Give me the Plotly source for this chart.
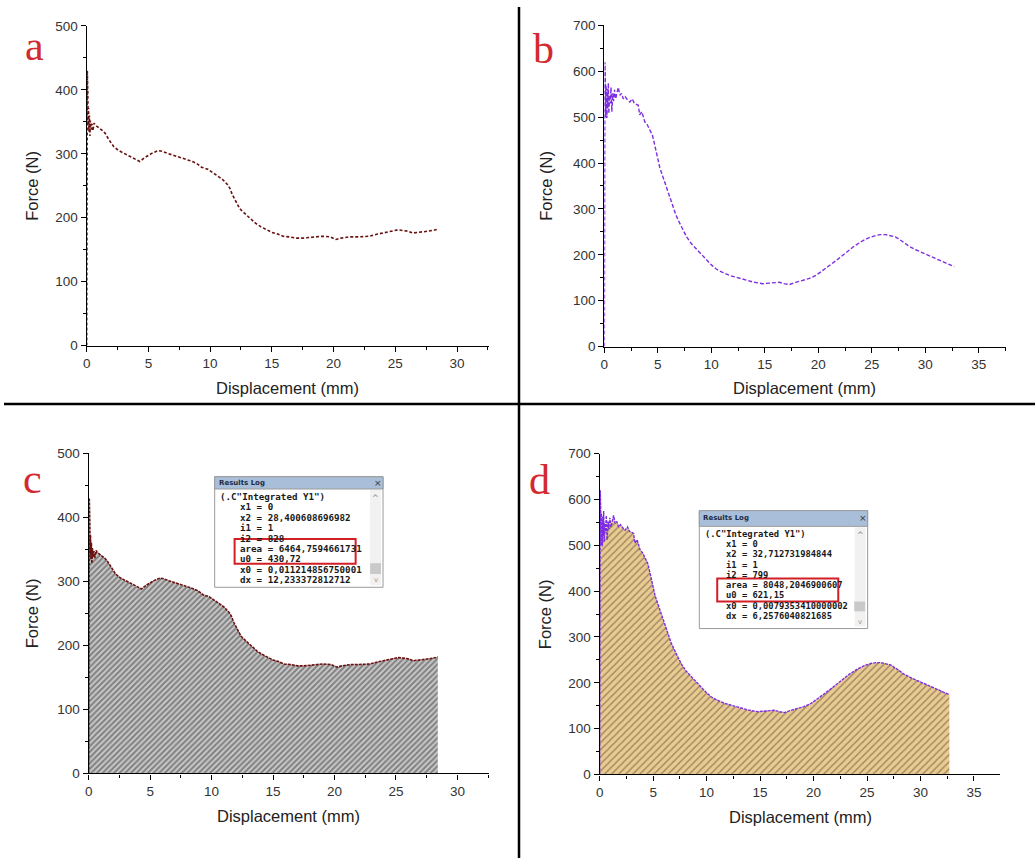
import plotly.graph_objects as go

W, H = 1035, 866

# ---- Specimen 1 (panels a, c): force vs displacement ----
disp_1 = [0.0, 0.01, 0.02, 0.03, 0.04, 0.05, 0.07, 0.09, 0.12, 0.15, 0.18, 0.22, 0.26, 0.3,
          0.35, 0.43, 0.5, 0.6, 0.7, 0.85, 1.1, 1.3, 1.5, 1.8, 2.2, 2.6, 3.0, 3.4, 3.8, 4.3,
          4.7, 5.0, 5.3, 5.8, 6.1, 6.5, 7.0, 7.5, 8.0, 8.4, 8.9, 9.3, 9.8, 10.2, 10.6, 11.0,
          11.4, 11.6, 11.8, 12.1, 12.4, 12.9, 13.3, 13.7, 14.1, 14.5, 15.0, 15.4, 15.9, 16.4,
          17.0, 17.5, 18.0, 18.6, 19.1, 19.7, 20.2, 20.6, 21.3, 22.0, 22.9, 23.5, 24.0, 24.4,
          24.8, 25.2, 25.6, 26.0, 26.4, 26.8, 27.2, 27.7, 28.25, 28.4]
force_1 = [0, 90, 200, 310, 400, 430, 365, 395, 345, 372, 335, 360, 328, 352,
           338, 347, 336, 348, 345, 343, 340, 336, 332, 322, 311, 305, 301, 297, 292, 288,
           294, 298, 301, 305, 304, 301, 298, 294, 291, 289, 285, 279, 276, 271, 266, 260,
           252, 246, 236, 225, 214, 205, 198, 191, 186, 182, 177, 175, 171, 170,
           168, 168, 169, 170, 171, 170, 166, 168, 170, 170, 171, 174, 176, 178,
           180, 181, 180, 179, 176, 177, 177, 179, 181, 182]

# ---- Specimen 2 (panels b, d) ----
disp_2 = [0.0, 0.01, 0.02, 0.03, 0.04, 0.05, 0.07, 0.09, 0.11, 0.14, 0.17, 0.2, 0.24, 0.28,
          0.32, 0.37, 0.42, 0.48, 0.55, 0.62, 0.7, 0.78, 0.86, 0.95, 1.05, 1.15, 1.3, 1.45,
          1.6, 1.77, 1.95, 2.15, 2.38, 2.6, 2.8, 3.0, 3.17, 3.3, 3.5, 3.78, 4.0, 4.25, 4.5,
          4.7, 4.95, 5.18, 5.5, 5.8, 6.1, 6.42, 6.7, 7.04, 7.35, 7.66, 8.1, 8.6, 9.0, 9.52,
          10.0, 10.46, 11.0, 11.7, 12.4, 13.25, 14.0, 14.8, 15.5, 16.35, 16.8, 17.28, 17.9,
          18.5, 19.1, 19.77, 20.4, 21.0, 21.8, 22.56, 23.3, 24.1, 24.7, 25.35, 25.8, 26.3,
          26.8, 27.2, 27.8, 28.45, 29.1, 29.7, 30.5, 31.25, 32.0, 32.7]
force_2 = [0, 150, 300, 440, 560, 620, 510, 585, 500, 570, 515, 555, 498, 562,
           520, 575, 508, 548, 530, 565, 512, 552, 535, 560, 540, 550, 565, 548,
           552, 540, 545, 538, 533, 540, 530, 528, 526, 505, 512, 490, 484, 472, 460,
           440, 415, 390, 368, 347, 326, 305, 286, 269, 254, 240, 225, 212, 202, 190,
           178, 169, 162, 155, 150, 144, 140, 137, 139, 140, 137, 135, 140,
           144, 148, 155, 165, 176, 190, 205, 218, 230, 237, 242, 244, 244,
           242, 239, 230, 219, 211, 205, 197, 190, 182, 174]

log_c = ['(.C"Integrated Y1")', 'x1 = 0', 'x2 = 28,400608696982', 'i1 = 1', 'i2 = 828',
         'area = 6464,7594661731', 'u0 = 430,72', 'x0 = 0,011214856750001',
         'dx = 12,233372812712']
log_d = ['(.C"Integrated Y1")', 'x1 = 0', 'x2 = 32,712731984844', 'i1 = 1', 'i2 = 799',
         'area = 8048,2046900607', 'u0 = 621,15', 'x0 = 0,0079353410000002',
         'dx = 6,2576040821685']

RED_DARK = "#6a1010"
PURPLE = "#7d2ee0"


def fx(x):
    return x / W


def fy(y):
    return 1 - y / H


fig = go.Figure()

# panel a
fig.add_trace(go.Scatter(x=disp_1, y=force_1, mode="lines", xaxis="x", yaxis="y",
                         line=dict(color=RED_DARK, width=1.6, dash="3px,2px")))
# panel b
fig.add_trace(go.Scatter(x=disp_2, y=force_2, mode="lines", xaxis="x2", yaxis="y2",
                         line=dict(color=PURPLE, width=1.4, dash="4px,2px")))
# panel c: hatched integral area + curve
fig.add_trace(go.Scatter(x=disp_1, y=force_1, mode="none", xaxis="x3", yaxis="y3",
                         fill="tozeroy",
                         fillpattern=dict(shape="/", bgcolor="#c8c8c8", fgcolor="#363636",
                                          size=4, solidity=0.48)))
fig.add_trace(go.Scatter(x=disp_1, y=force_1, mode="lines", xaxis="x3", yaxis="y3",
                         line=dict(color=RED_DARK, width=1.6, dash="3px,1px")))
# panel d
fig.add_trace(go.Scatter(x=disp_2, y=force_2, mode="none", xaxis="x4", yaxis="y4",
                         fill="tozeroy",
                         fillpattern=dict(shape="/", bgcolor="#e9ca90", fgcolor="#4e4130",
                                          size=5, solidity=0.28)))
fig.add_trace(go.Scatter(x=disp_2, y=force_2, mode="lines", xaxis="x4", yaxis="y4",
                         line=dict(color=PURPLE, width=1.4, dash="3px,1px")))

tickfont = dict(family="Arial, Liberation Sans", size=13.5, color="#333")


def xax(domain, rng, anchor):
    return dict(domain=domain, range=rng, anchor=anchor, showline=True, linecolor="black",
                linewidth=1.3, ticks="outside", ticklen=5, tickwidth=1.3, tickcolor="black",
                tick0=0, dtick=5, showgrid=False, zeroline=False, tickfont=tickfont,
                minor=dict(ticks="outside", ticklen=3, tickwidth=1.3, tickcolor="black",
                           dtick=2.5, showgrid=False))


def yax(domain, rng, anchor):
    return dict(domain=domain, range=rng, anchor=anchor, showline=True, linecolor="black",
                linewidth=1.3, ticks="outside", ticklen=5, tickwidth=1.3, tickcolor="black",
                tick0=0, dtick=100, showgrid=False, zeroline=False, tickfont=tickfont,
                minor=dict(ticks="outside", ticklen=3, tickwidth=1.3, tickcolor="black",
                           dtick=50, showgrid=False))


layout = dict(
    width=W, height=H, margin=dict(l=0, r=0, t=0, b=0), paper_bgcolor="white",
    plot_bgcolor="rgba(0,0,0,0)", showlegend=False,
    xaxis=xax([fx(83), fx(487)], [0, 32.6], "y"),
    yaxis=yax([fy(344.5), fy(19.3)], [0, 500], "x"),
    xaxis2=xax([fx(602.7), fx(1006)], [0, 37.55], "y2"),
    yaxis2=yax([fy(345.5), fy(18.8)], [0, 700], "x2"),
    xaxis3=xax([fx(85), fx(487.3)], [0, 32.6], "y3"),
    yaxis3=yax([fy(780), fy(454)], [0, 500], "x3"),
    xaxis4=xax([fx(598), fx(1000)], [0, 37.45], "y4"),
    yaxis4=yax([fy(781), fy(454.5)], [0, 700], "x4"),
)
fig.update_layout(**layout)

shapes = []
ann = []

# panel dividers
shapes.append(dict(type="line", xref="paper", yref="paper", x0=fx(517), x1=fx(517),
                   y0=0, y1=1, line=dict(color="black", width=2.5)))
shapes.append(dict(type="line", xref="paper", yref="paper", x0=0, x1=1,
                   y0=fy(404), y1=fy(404), line=dict(color="black", width=2.5)))

# panel letters
for letter, (cx, cy) in {"a": (31, 40), "b": (541.5, 43), "c": (28.5, 480),
                         "d": (538, 481)}.items():
    ann.append(dict(text=letter, x=fx(cx), y=fy(cy), xref="paper", yref="paper",
                    showarrow=False, xanchor="center", yanchor="middle",
                    font=dict(family="Liberation Serif, Times New Roman", size=42,
                              color="#d22a2e")))

# axis titles
label_font = dict(family="Arial, Liberation Sans", size=16.5, color="#222")
for cx, cy in [(285, 388), (804, 388), (286, 823), (800, 824)]:
    ann.append(dict(text="Displacement (mm)", x=fx(cx), y=fy(cy), xref="paper",
                    yref="paper", showarrow=False, xanchor="center", yanchor="middle",
                    font=label_font))
for cx, cy in [(28, 182), (544, 182), (28, 617), (543, 618)]:
    ann.append(dict(text="Force (N)", x=fx(cx), y=fy(cy), xref="paper", yref="paper",
                    showarrow=False, xanchor="center", yanchor="middle", textangle=-90,
                    font=label_font))


def results_log(left, top, right, bottom, bar_bottom, lines, line_ys, x_first, x_indent,
                fsize, red, thumb):
    def rect(x0, y0, x1, y1, fill, line_color, lw):
        shapes.append(dict(type="rect", xref="paper", yref="paper", x0=fx(x0), x1=fx(x1),
                           y0=fy(y1), y1=fy(y0), fillcolor=fill,
                           line=dict(color=line_color, width=lw)))

    rect(left, top, right, bottom, "white", "#9a9a9a", 1)
    rect(left, top, right, bar_bottom, "#a9bfd9", "#9a9a9a", 1)
    # scrollbar and thumb
    rect(right - 13, bar_bottom + 1, right - 2, bottom - 2, "#f1f1f1", "#f1f1f1", 0)
    rect(thumb[0], thumb[1], thumb[2], thumb[3], "#c9c9c9", "#c9c9c9", 0)
    ann.append(dict(text="<b>Results Log</b>", x=fx(left + 2), y=fy((top + bar_bottom) / 2),
                    xref="paper", yref="paper", showarrow=False, xanchor="left",
                    yanchor="middle",
                    font=dict(family="DejaVu Sans", size=7, color="#1c2a44")))
    ann.append(dict(text="×", x=fx(right - 5), y=fy((top + bar_bottom) / 2),
                    xref="paper", yref="paper", showarrow=False, xanchor="center",
                    yanchor="middle", font=dict(family="DejaVu Sans", size=9, color="#333")))
    ann.append(dict(text="^", x=fx(right - 7.5), y=fy(line_ys[0] + 2), xref="paper",
                    yref="paper", showarrow=False, xanchor="center", yanchor="middle",
                    font=dict(family="DejaVu Sans", size=8, color="#888")))
    ann.append(dict(text="v", x=fx(right - 7.5), y=fy(bottom - 7), xref="paper",
                    yref="paper", showarrow=False, xanchor="center", yanchor="middle",
                    font=dict(family="DejaVu Sans", size=7, color="#999")))
    for i, (txt, ly) in enumerate(zip(lines, line_ys)):
        ann.append(dict(text="<b>" + txt + "</b>", x=fx(x_first if i == 0 else x_indent),
                        y=fy(ly), xref="paper", yref="paper", showarrow=False,
                        xanchor="left", yanchor="middle",
                        font=dict(family="DejaVu Sans Mono", size=fsize, color="#1a1a1a")))
    shapes.append(dict(type="rect", xref="paper", yref="paper", x0=fx(red[0]), x1=fx(red[2]),
                       y0=fy(red[3]), y1=fy(red[1]), line=dict(color="#d21f26", width=2)))


results_log(211.5, 478, 380.5, 590.5, 490.5, log_c,
            [498, 508.7, 519.4, 530, 540.6, 551.2, 561.6, 572.2, 582.5], 215, 235, 9.2,
            (231.5, 541.5, 353, 566.5), (367.5, 566, 378.5, 577))
results_log(698, 512.5, 867, 632.5, 528.5, log_d,
            [536, 546.6, 557, 567.5, 578, 588.4, 598.8, 609.4, 620], 701.5, 722.5, 8.8,
            (716, 581.5, 837.5, 605), (853.5, 605, 864.5, 615))

fig.update_layout(shapes=shapes, annotations=ann)

fig.write_html("out.html")
